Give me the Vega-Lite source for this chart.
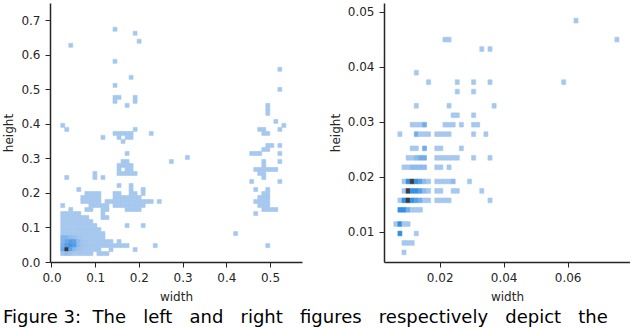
{
"$schema": "https://vega.github.io/schema/vega-lite/v6.json",
"padding": {"left": 2, "top": 3, "right": 0, "bottom": 0},
"background": "white",
"config": {
 "view": {"stroke": null},
 "font": "DejaVu Sans",
 "axis": {"grid": false, "domainColor": "#262626", "domainWidth": 1.5, "tickColor": "#262626", "tickSize": 5, "tickWidth": 1, "labelFont": "DejaVu Sans", "labelFontSize": 12, "labelColor": "#262626", "labelPadding": 5, "titleFont": "DejaVu Sans", "titleFontSize": 12, "titleFontWeight": "normal", "titleColor": "#262626", "titlePadding": 5},
 "axisX": {"titlePadding": 8}
},
"title": {"text": "Figure 3:\u00a0 The\u00a0\u00a0 left\u00a0\u00a0 and\u00a0\u00a0 right\u00a0\u00a0 figures\u00a0\u00a0 respectively\u00a0\u00a0 depict\u00a0\u00a0 the", "orient": "bottom", "anchor": "start", "font": "DejaVu Sans", "fontSize": 18, "fontWeight": "normal", "color": "#000000", "offset": 7},
"spacing": 27,
"resolve": {"scale": {"color": "independent", "stroke": "independent"}},
"datasets": {
"L": [
{"w":0.1442,"h":0.6754,"n":1},{"w":0.1902,"h":0.6638,"n":1},{"w":0.1994,"h":0.6406,"n":1},{"w":0.043,"h":0.629,"n":1},
{"w":0.1442,"h":0.5826,"n":1},{"w":0.5214,"h":0.5594,"n":1},{"w":0.181,"h":0.5362,"n":1},{"w":0.1442,"h":0.513,"n":1},{"w":0.5214,"h":0.5014,"n":1},
{"w":0.1442,"h":0.4782,"n":1},{"w":0.1534,"h":0.4782,"n":1},{"w":0.1902,"h":0.4782,"n":1},
{"w":0.1442,"h":0.4666,"n":1},{"w":0.1902,"h":0.4666,"n":1},
{"w":0.1718,"h":0.455,"n":1},{"w":0.4938,"h":0.455,"n":1},{"w":0.4938,"h":0.4434,"n":1},{"w":0.4938,"h":0.4318,"n":1},{"w":0.5122,"h":0.4086,"n":1},
{"w":0.0246,"h":0.397,"n":1},{"w":0.5306,"h":0.397,"n":1},
{"w":0.0338,"h":0.3854,"n":1},{"w":0.1902,"h":0.3854,"n":1},{"w":0.4754,"h":0.3854,"n":1},{"w":0.4846,"h":0.3854,"n":1},{"w":0.5214,"h":0.3854,"n":1},
{"w":0.1442,"h":0.3738,"n":1},{"w":0.1534,"h":0.3738,"n":1},{"w":0.1626,"h":0.3738,"n":1},{"w":0.1718,"h":0.3738,"n":1},{"w":0.181,"h":0.3738,"n":1},{"w":0.227,"h":0.3738,"n":1},{"w":0.4846,"h":0.3738,"n":1},{"w":0.4938,"h":0.3738,"n":1},
{"w":0.1166,"h":0.3622,"n":1},{"w":0.1534,"h":0.3622,"n":1},{"w":0.1718,"h":0.3622,"n":1},{"w":0.181,"h":0.3622,"n":1},
{"w":0.1626,"h":0.3506,"n":1},
{"w":0.4938,"h":0.339,"n":1},{"w":0.503,"h":0.339,"n":1},{"w":0.5214,"h":0.339,"n":1},
{"w":0.4846,"h":0.3274,"n":1},{"w":0.4938,"h":0.3274,"n":1},
{"w":0.1718,"h":0.3158,"n":1},{"w":0.457,"h":0.3158,"n":1},{"w":0.4662,"h":0.3158,"n":1},{"w":0.4754,"h":0.3158,"n":1},{"w":0.5214,"h":0.3158,"n":1},
{"w":0.3098,"h":0.3042,"n":1},
{"w":0.1626,"h":0.2926,"n":1},{"w":0.1718,"h":0.2926,"n":1},{"w":0.273,"h":0.2926,"n":1},{"w":0.4846,"h":0.2926,"n":1},{"w":0.5214,"h":0.2926,"n":1},
{"w":0.1534,"h":0.281,"n":1},{"w":0.1626,"h":0.281,"n":1},{"w":0.1718,"h":0.281,"n":1},{"w":0.181,"h":0.281,"n":1},{"w":0.4846,"h":0.281,"n":1},
{"w":0.1534,"h":0.2694,"n":1},{"w":0.1718,"h":0.2694,"n":1},{"w":0.181,"h":0.2694,"n":1},{"w":0.4662,"h":0.2694,"n":1},{"w":0.4754,"h":0.2694,"n":1},{"w":0.4846,"h":0.2694,"n":1},{"w":0.4938,"h":0.2694,"n":1},{"w":0.503,"h":0.2694,"n":1},{"w":0.5122,"h":0.2694,"n":1},
{"w":0.0982,"h":0.2578,"n":1},{"w":0.1534,"h":0.2578,"n":1},{"w":0.1626,"h":0.2578,"n":1},{"w":0.1718,"h":0.2578,"n":1},{"w":0.181,"h":0.2578,"n":1},{"w":0.1902,"h":0.2578,"n":1},{"w":0.4754,"h":0.2578,"n":1},{"w":0.4846,"h":0.2578,"n":1},
{"w":0.0338,"h":0.2462,"n":1},{"w":0.0982,"h":0.2462,"n":1},{"w":0.1166,"h":0.2462,"n":1},{"w":0.4846,"h":0.2462,"n":1},
{"w":0.457,"h":0.2346,"n":1},{"w":0.5214,"h":0.2346,"n":1},
{"w":0.1534,"h":0.223,"n":1},{"w":0.181,"h":0.223,"n":1},
{"w":0.0614,"h":0.2114,"n":1},{"w":0.181,"h":0.2114,"n":1},{"w":0.2086,"h":0.2114,"n":1},{"w":0.4662,"h":0.2114,"n":1},{"w":0.4938,"h":0.2114,"n":1},
{"w":0.0798,"h":0.1998,"n":1},{"w":0.089,"h":0.1998,"n":1},{"w":0.0982,"h":0.1998,"n":1},{"w":0.1074,"h":0.1998,"n":1},{"w":0.1442,"h":0.1998,"n":1},{"w":0.1534,"h":0.1998,"n":1},{"w":0.181,"h":0.1998,"n":1},{"w":0.1902,"h":0.1998,"n":1},{"w":0.2086,"h":0.1998,"n":1},{"w":0.4846,"h":0.1998,"n":1},{"w":0.4938,"h":0.1998,"n":1},
{"w":0.0706,"h":0.1882,"n":1},{"w":0.0798,"h":0.1882,"n":1},{"w":0.089,"h":0.1882,"n":1},{"w":0.0982,"h":0.1882,"n":1},{"w":0.1074,"h":0.1882,"n":1},{"w":0.1442,"h":0.1882,"n":1},{"w":0.1534,"h":0.1882,"n":1},{"w":0.1626,"h":0.1882,"n":1},{"w":0.1718,"h":0.1882,"n":1},{"w":0.181,"h":0.1882,"n":1},{"w":0.1902,"h":0.1882,"n":1},{"w":0.1994,"h":0.1882,"n":1},{"w":0.4754,"h":0.1882,"n":1},{"w":0.4846,"h":0.1882,"n":1},{"w":0.4938,"h":0.1882,"n":2},
{"w":0.0706,"h":0.1766,"n":1},{"w":0.0798,"h":0.1766,"n":1},{"w":0.089,"h":0.1766,"n":1},{"w":0.0982,"h":0.1766,"n":1},{"w":0.1074,"h":0.1766,"n":1},{"w":0.1258,"h":0.1766,"n":1},{"w":0.135,"h":0.1766,"n":1},{"w":0.1442,"h":0.1766,"n":1},{"w":0.1534,"h":0.1766,"n":1},{"w":0.1626,"h":0.1766,"n":1},{"w":0.1718,"h":0.1766,"n":1},{"w":0.181,"h":0.1766,"n":1},{"w":0.1902,"h":0.1766,"n":1},{"w":0.1994,"h":0.1766,"n":1},{"w":0.2086,"h":0.1766,"n":1},{"w":0.2178,"h":0.1766,"n":1},{"w":0.227,"h":0.1766,"n":1},{"w":0.2454,"h":0.1766,"n":1},{"w":0.4662,"h":0.1766,"n":1},{"w":0.4754,"h":0.1766,"n":1},{"w":0.4846,"h":0.1766,"n":1},{"w":0.4938,"h":0.1766,"n":1},
{"w":0.0246,"h":0.165,"n":1},{"w":0.089,"h":0.165,"n":1},{"w":0.0982,"h":0.165,"n":1},{"w":0.1074,"h":0.165,"n":1},{"w":0.1166,"h":0.165,"n":1},{"w":0.1258,"h":0.165,"n":1},{"w":0.1442,"h":0.165,"n":1},{"w":0.1534,"h":0.165,"n":1},{"w":0.1626,"h":0.165,"n":1},{"w":0.1718,"h":0.165,"n":1},{"w":0.181,"h":0.165,"n":1},{"w":0.1902,"h":0.165,"n":1},{"w":0.1994,"h":0.165,"n":1},{"w":0.2086,"h":0.165,"n":1},{"w":0.4754,"h":0.165,"n":1},{"w":0.4846,"h":0.165,"n":1},{"w":0.4938,"h":0.165,"n":1},
{"w":0.043,"h":0.1534,"n":1},{"w":0.0798,"h":0.1534,"n":1},{"w":0.089,"h":0.1534,"n":1},{"w":0.1166,"h":0.1534,"n":1},{"w":0.1258,"h":0.1534,"n":1},{"w":0.1718,"h":0.1534,"n":1},{"w":0.181,"h":0.1534,"n":1},{"w":0.1902,"h":0.1534,"n":1},{"w":0.1994,"h":0.1534,"n":1},{"w":0.4846,"h":0.1534,"n":1},{"w":0.4938,"h":0.1534,"n":1},{"w":0.503,"h":0.1534,"n":1},{"w":0.5122,"h":0.1534,"n":1},
{"w":0.0246,"h":0.1418,"n":1},{"w":0.0338,"h":0.1418,"n":1},{"w":0.043,"h":0.1418,"n":1},{"w":0.0522,"h":0.1418,"n":1},{"w":0.0614,"h":0.1418,"n":1},{"w":0.1166,"h":0.1418,"n":1},{"w":0.4662,"h":0.1418,"n":1},
{"w":0.0246,"h":0.1302,"n":1},{"w":0.0338,"h":0.1302,"n":1},{"w":0.043,"h":0.1302,"n":1},{"w":0.0522,"h":0.1302,"n":1},{"w":0.0614,"h":0.1302,"n":1},{"w":0.0706,"h":0.1302,"n":1},{"w":0.0798,"h":0.1302,"n":1},{"w":0.1166,"h":0.1302,"n":1},{"w":0.1258,"h":0.1302,"n":1},
{"w":0.0246,"h":0.1186,"n":1},{"w":0.0338,"h":0.1186,"n":1},{"w":0.043,"h":0.1186,"n":1},{"w":0.0522,"h":0.1186,"n":1},{"w":0.0614,"h":0.1186,"n":1},{"w":0.0706,"h":0.1186,"n":1},{"w":0.0798,"h":0.1186,"n":1},{"w":0.089,"h":0.1186,"n":1},
{"w":0.0246,"h":0.107,"n":1},{"w":0.0338,"h":0.107,"n":1},{"w":0.043,"h":0.107,"n":1},{"w":0.0522,"h":0.107,"n":1},{"w":0.0614,"h":0.107,"n":1},{"w":0.0706,"h":0.107,"n":1},{"w":0.0798,"h":0.107,"n":1},{"w":0.089,"h":0.107,"n":1},{"w":0.0982,"h":0.107,"n":1},{"w":0.1718,"h":0.107,"n":1},{"w":0.2086,"h":0.107,"n":1},
{"w":0.0246,"h":0.0954,"n":1},{"w":0.0338,"h":0.0954,"n":1},{"w":0.043,"h":0.0954,"n":1},{"w":0.0522,"h":0.0954,"n":1},{"w":0.0614,"h":0.0954,"n":1},{"w":0.0706,"h":0.0954,"n":1},{"w":0.0798,"h":0.0954,"n":1},{"w":0.089,"h":0.0954,"n":1},{"w":0.0982,"h":0.0954,"n":1},{"w":0.1074,"h":0.0954,"n":1},
{"w":0.0246,"h":0.0838,"n":1},{"w":0.0338,"h":0.0838,"n":1},{"w":0.043,"h":0.0838,"n":1},{"w":0.0522,"h":0.0838,"n":1},{"w":0.0614,"h":0.0838,"n":1},{"w":0.0706,"h":0.0838,"n":1},{"w":0.0798,"h":0.0838,"n":1},{"w":0.089,"h":0.0838,"n":1},{"w":0.0982,"h":0.0838,"n":1},{"w":0.1074,"h":0.0838,"n":1},{"w":0.1166,"h":0.0838,"n":1},{"w":0.4202,"h":0.0838,"n":1},
{"w":0.0246,"h":0.0722,"n":8},{"w":0.0338,"h":0.0722,"n":8},{"w":0.043,"h":0.0722,"n":5},{"w":0.0522,"h":0.0722,"n":4},{"w":0.0614,"h":0.0722,"n":2},{"w":0.0706,"h":0.0722,"n":1},{"w":0.0798,"h":0.0722,"n":1},{"w":0.089,"h":0.0722,"n":1},{"w":0.0982,"h":0.0722,"n":1},{"w":0.1074,"h":0.0722,"n":1},{"w":0.1166,"h":0.0722,"n":1},
{"w":0.0246,"h":0.0606,"n":8},{"w":0.0338,"h":0.0606,"n":12},{"w":0.043,"h":0.0606,"n":16},{"w":0.0522,"h":0.0606,"n":14},{"w":0.0614,"h":0.0606,"n":5},{"w":0.0706,"h":0.0606,"n":2},{"w":0.0798,"h":0.0606,"n":1},{"w":0.089,"h":0.0606,"n":1},{"w":0.0982,"h":0.0606,"n":1},{"w":0.1074,"h":0.0606,"n":1},{"w":0.1166,"h":0.0606,"n":1},{"w":0.1258,"h":0.0606,"n":1},{"w":0.135,"h":0.0606,"n":1},{"w":0.1534,"h":0.0606,"n":1},
{"w":0.0246,"h":0.049,"n":10},{"w":0.0338,"h":0.049,"n":16},{"w":0.043,"h":0.049,"n":18},{"w":0.0522,"h":0.049,"n":16},{"w":0.0614,"h":0.049,"n":5},{"w":0.0706,"h":0.049,"n":2},{"w":0.0798,"h":0.049,"n":2},{"w":0.089,"h":0.049,"n":1},{"w":0.0982,"h":0.049,"n":1},{"w":0.1074,"h":0.049,"n":1},{"w":0.1166,"h":0.049,"n":1},{"w":0.1258,"h":0.049,"n":1},{"w":0.135,"h":0.049,"n":1},{"w":0.1442,"h":0.049,"n":1},{"w":0.1534,"h":0.049,"n":1},{"w":0.1626,"h":0.049,"n":1},{"w":0.1718,"h":0.049,"n":1},{"w":0.2362,"h":0.049,"n":1},{"w":0.4938,"h":0.049,"n":1},
{"w":0.0246,"h":0.0374,"n":12},{"w":0.0338,"h":0.0374,"n":40},{"w":0.043,"h":0.0374,"n":14},{"w":0.0522,"h":0.0374,"n":6},{"w":0.0614,"h":0.0374,"n":3},{"w":0.0706,"h":0.0374,"n":2},{"w":0.0798,"h":0.0374,"n":1},{"w":0.089,"h":0.0374,"n":1},{"w":0.0982,"h":0.0374,"n":1},{"w":0.1074,"h":0.0374,"n":1},{"w":0.135,"h":0.0374,"n":1},{"w":0.1902,"h":0.0374,"n":1},
{"w":0.0246,"h":0.0258,"n":3},{"w":0.0338,"h":0.0258,"n":5},{"w":0.043,"h":0.0258,"n":3},{"w":0.0522,"h":0.0258,"n":1},{"w":0.0614,"h":0.0258,"n":1},{"w":0.0706,"h":0.0258,"n":1},{"w":0.0798,"h":0.0258,"n":1},{"w":0.089,"h":0.0258,"n":1},{"w":0.1074,"h":0.0258,"n":1},{"w":0.1166,"h":0.0258,"n":1},{"w":0.1258,"h":0.0258,"n":1}
],
"R": [
{"w":0.06246,"h":0.04848,"n":1},
{"w":0.0215,"h":0.04504,"n":1},{"w":0.02278,"h":0.04504,"n":1},{"w":0.07526,"h":0.04504,"n":1},
{"w":0.03302,"h":0.04332,"n":1},{"w":0.03558,"h":0.04332,"n":1},
{"w":0.01254,"h":0.03902,"n":1},
{"w":0.01638,"h":0.0373,"n":1},{"w":0.02534,"h":0.0373,"n":1},{"w":0.03046,"h":0.0373,"n":1},{"w":0.03558,"h":0.0373,"n":1},{"w":0.05862,"h":0.0373,"n":1},
{"w":0.02534,"h":0.03558,"n":1},{"w":0.03046,"h":0.03558,"n":1},
{"w":0.01254,"h":0.033,"n":1},{"w":0.02278,"h":0.033,"n":1},{"w":0.03686,"h":0.033,"n":1},
{"w":0.02406,"h":0.03128,"n":1},{"w":0.02534,"h":0.03128,"n":1},{"w":0.03046,"h":0.03128,"n":1},
{"w":0.01126,"h":0.02956,"n":1},{"w":0.01254,"h":0.02956,"n":1},{"w":0.01382,"h":0.02956,"n":1},{"w":0.0151,"h":0.02956,"n":3},{"w":0.0215,"h":0.02956,"n":1},{"w":0.02278,"h":0.02956,"n":1},{"w":0.02406,"h":0.02956,"n":1},{"w":0.02662,"h":0.02956,"n":1},{"w":0.03046,"h":0.02956,"n":1},{"w":0.03174,"h":0.02956,"n":1},
{"w":0.00742,"h":0.02784,"n":1},{"w":0.01254,"h":0.02784,"n":3},{"w":0.01382,"h":0.02784,"n":1},{"w":0.0151,"h":0.02784,"n":1},{"w":0.01638,"h":0.02784,"n":1},{"w":0.01894,"h":0.02784,"n":1},{"w":0.02022,"h":0.02784,"n":1},{"w":0.0215,"h":0.02784,"n":1},{"w":0.02278,"h":0.02784,"n":1},{"w":0.03046,"h":0.02784,"n":1},{"w":0.0343,"h":0.02784,"n":1},
{"w":0.01126,"h":0.02526,"n":1},{"w":0.01254,"h":0.02526,"n":1},{"w":0.0151,"h":0.02526,"n":3},{"w":0.01894,"h":0.02526,"n":1},{"w":0.02022,"h":0.02526,"n":1},{"w":0.02662,"h":0.02526,"n":1},
{"w":0.00998,"h":0.02354,"n":1},{"w":0.01126,"h":0.02354,"n":1},{"w":0.01254,"h":0.02354,"n":2},{"w":0.01382,"h":0.02354,"n":3},{"w":0.0151,"h":0.02354,"n":3},{"w":0.01894,"h":0.02354,"n":1},{"w":0.02022,"h":0.02354,"n":1},{"w":0.0215,"h":0.02354,"n":1},{"w":0.02278,"h":0.02354,"n":1},{"w":0.02406,"h":0.02354,"n":1},{"w":0.02534,"h":0.02354,"n":1},{"w":0.03046,"h":0.02354,"n":1},{"w":0.03558,"h":0.02354,"n":1},
{"w":0.0087,"h":0.02182,"n":1},{"w":0.00998,"h":0.02182,"n":1},{"w":0.01126,"h":0.02182,"n":2},{"w":0.01254,"h":0.02182,"n":2},{"w":0.01382,"h":0.02182,"n":2},{"w":0.0151,"h":0.02182,"n":2},{"w":0.01894,"h":0.02182,"n":1},{"w":0.02022,"h":0.02182,"n":1},{"w":0.02278,"h":0.02182,"n":1},
{"w":0.0087,"h":0.01924,"n":1},{"w":0.00998,"h":0.01924,"n":5},{"w":0.01126,"h":0.01924,"n":12},{"w":0.01254,"h":0.01924,"n":5},{"w":0.01382,"h":0.01924,"n":4},{"w":0.0151,"h":0.01924,"n":2},{"w":0.01638,"h":0.01924,"n":1},{"w":0.01894,"h":0.01924,"n":1},{"w":0.02022,"h":0.01924,"n":1},{"w":0.0215,"h":0.01924,"n":1},{"w":0.02278,"h":0.01924,"n":1},{"w":0.02406,"h":0.01924,"n":2},{"w":0.02918,"h":0.01924,"n":1},
{"w":0.0087,"h":0.01752,"n":1},{"w":0.00998,"h":0.01752,"n":12},{"w":0.01126,"h":0.01752,"n":5},{"w":0.01254,"h":0.01752,"n":5},{"w":0.01382,"h":0.01752,"n":4},{"w":0.0151,"h":0.01752,"n":2},{"w":0.01638,"h":0.01752,"n":1},{"w":0.01894,"h":0.01752,"n":1},{"w":0.02022,"h":0.01752,"n":1},{"w":0.02406,"h":0.01752,"n":1},{"w":0.02534,"h":0.01752,"n":1},{"w":0.03302,"h":0.01752,"n":1},
{"w":0.00742,"h":0.0158,"n":1},{"w":0.0087,"h":0.0158,"n":5},{"w":0.00998,"h":0.0158,"n":12},{"w":0.01126,"h":0.0158,"n":5},{"w":0.01254,"h":0.0158,"n":4},{"w":0.01382,"h":0.0158,"n":3},{"w":0.0151,"h":0.0158,"n":1},{"w":0.01638,"h":0.0158,"n":1},{"w":0.01894,"h":0.0158,"n":1},{"w":0.02022,"h":0.0158,"n":1},{"w":0.0215,"h":0.0158,"n":1},{"w":0.02278,"h":0.0158,"n":1},{"w":0.03558,"h":0.0158,"n":1},
{"w":0.00742,"h":0.01408,"n":5},{"w":0.0087,"h":0.01408,"n":5},{"w":0.00998,"h":0.01408,"n":3},{"w":0.01126,"h":0.01408,"n":1},{"w":0.01254,"h":0.01408,"n":1},{"w":0.01382,"h":0.01408,"n":1},
{"w":0.00614,"h":0.0115,"n":1},{"w":0.00742,"h":0.0115,"n":5},{"w":0.0087,"h":0.0115,"n":1},{"w":0.00998,"h":0.0115,"n":1},
{"w":0.00742,"h":0.00978,"n":5},{"w":0.01254,"h":0.00978,"n":1},
{"w":0.0087,"h":0.00806,"n":1},{"w":0.00998,"h":0.00806,"n":1},{"w":0.01126,"h":0.00806,"n":1},
{"w":0.0087,"h":0.00634,"n":1}
]
},
"hconcat": [
{
 "width": 252, "height": 259,
 "data": {"name": "L"},
 "mark": {"type": "rect", "binSpacing": 0, "strokeWidth": 0.6},
 "encoding": {
  "x": {"field": "w", "type": "quantitative", "bin": {"step": 0.0092, "extent": [0.02, 0.57], "nice": false},
        "scale": {"domain": [-0.0034, 0.5732], "nice": false, "zero": false},
        "axis": {"values": [0, 0.1, 0.2, 0.3, 0.4, 0.5], "format": ".1f", "title": "width"}},
  "y": {"field": "h", "type": "quantitative", "bin": {"step": 0.0116, "extent": [0.02, 0.7], "nice": false},
        "scale": {"domain": [0, 0.75], "nice": false, "zero": false},
        "axis": {"values": [0, 0.1, 0.2, 0.3, 0.4, 0.5, 0.6, 0.7], "format": ".1f", "title": "height"}},
  "color": {"field": "n", "type": "quantitative", "scale": {"domain": [1, 20, 40], "range": ["#a6c8ee", "#3390e4", "#383a3e"]}, "legend": null},
  "stroke": {"field": "n", "type": "quantitative", "scale": {"domain": [1, 20, 40], "range": ["#a6c8ee", "#3390e4", "#383a3e"]}, "legend": null}
 }
},
{
 "width": 246, "height": 259,
 "data": {"name": "R"},
 "mark": {"type": "rect", "binSpacing": 0, "strokeWidth": 0.6},
 "encoding": {
  "x": {"field": "w", "type": "quantitative", "bin": {"step": 0.00128, "extent": [0.0055, 0.07854], "nice": false},
        "scale": {"domain": [0.0026, 0.0795], "nice": false, "zero": false},
        "axis": {"values": [0.02, 0.04, 0.06], "format": ".2f", "title": "width"}},
  "y": {"field": "h", "type": "quantitative", "bin": {"step": 0.00086, "extent": [0.00505, 0.05063], "nice": false},
        "scale": {"domain": [0.0045, 0.0516], "nice": false, "zero": false},
        "axis": {"values": [0.01, 0.02, 0.03, 0.04, 0.05], "format": ".2f", "title": "height"}},
  "color": {"field": "n", "type": "quantitative", "scale": {"domain": [1, 5, 12], "range": ["#a6c8ee", "#3390e4", "#3a3c40"]}, "legend": null},
  "stroke": {"field": "n", "type": "quantitative", "scale": {"domain": [1, 5, 12], "range": ["#a6c8ee", "#3390e4", "#3a3c40"]}, "legend": null}
 }
}
]
}
